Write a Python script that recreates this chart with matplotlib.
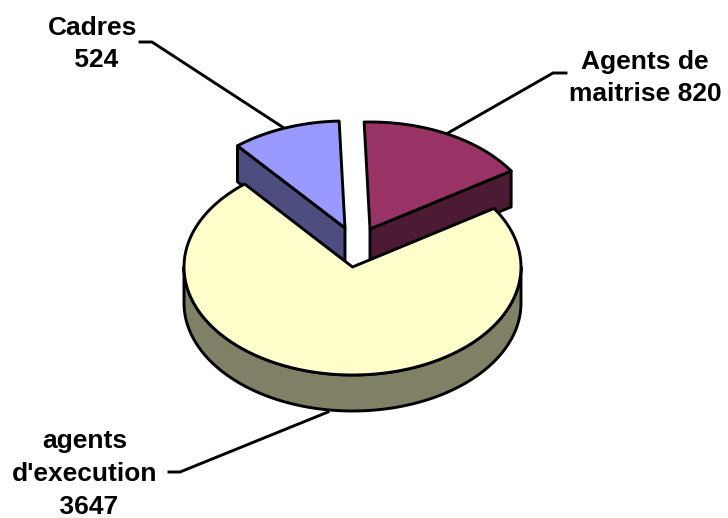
import numpy as np
import matplotlib
matplotlib.use('Agg')
import matplotlib.pyplot as plt
import matplotlib.patches as patches

labels = ["Agents de\nmaitrise 820", "agents\nd'execution\n 3647", "Cadres\n 524"]
values = [820, 3647, 524]
top_colors = ['#993366', '#FFFFCC', '#9999FF']
side_colors = ['#4D1A33', '#808066', '#4D4D80']

start_angle = -2
centers = [(370, 229), (352.5, 267), (345, 228)]
radii = [(168, 107), (168.5, 108), (168, 107)]
depth = 36
lw = 2.1

label_pos = [(645, 78), (85, 474), (93, 44)]
leaders = [
    [(566, 73), (553, 73), (448, 133)],
    [(169, 472), (180, 472), (328, 412)],
    [(140, 42), (152, 42), (284, 128)],
]


def rim(center, radius, a0, a1, n=120):
    # angles are clockwise from 12 o'clock, y axis points down
    t = np.radians(np.linspace(a0, a1, n))
    return np.column_stack([center[0] + radius[0]*np.sin(t), center[1] - radius[1]*np.cos(t)])


def poly(ax, pts, color, z):
    ax.add_patch(patches.Polygon(pts, closed=True, fc=color, ec='black', lw=lw, joinstyle='round', zorder=z))


fig = plt.figure(figsize=(7.28, 5.18), dpi=100)
ax = fig.add_axes([0, 0, 1, 1])
ax.set_xlim(0, 728)
ax.set_ylim(518, 0)
ax.set_axis_off()

sweeps = np.array(values) / sum(values) * 360
ends = start_angle + np.cumsum(sweeps)
starts = ends - sweeps

for pts in leaders:
    ax.plot(*zip(*pts), color='black', lw=lw, zorder=1, solid_joinstyle='miter')

# small slices first, the big one goes over them
for i, z in [(2, 2), (0, 4), (1, 6)]:
    c = centers[i]
    r = radii[i]
    arc = rim(c, r, starts[i], ends[i])
    if i == 1:
        # front wall, only the part of the rim facing the viewer
        front = rim(c, r, 90, 270)
        wall = np.vstack([front, front[::-1] + [0, depth]])
    else:
        # cut face towards the viewer
        edge = arc[0] if i == 2 else arc[-1]
        wall = np.array([c, edge, (edge[0], edge[1] + depth), (c[0], c[1] + depth)])
    poly(ax, wall, side_colors[i], z)
    poly(ax, np.vstack([[c], arc]), top_colors[i], z + 1)

for txt, pos in zip(labels, label_pos):
    ax.text(pos[0], pos[1], txt, ha='center', va='center', fontsize=19, fontweight='bold',
            family='Liberation Sans', linespacing=1.45, color='black', zorder=10)

fig.savefig('out.png', dpi=100)
